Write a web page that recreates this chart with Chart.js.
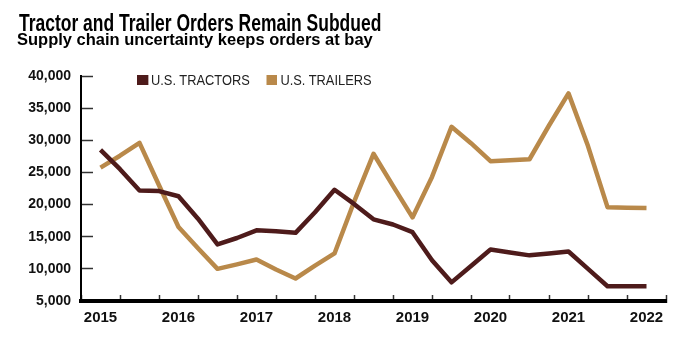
<!DOCTYPE html>
<html>
<head>
<meta charset="utf-8">
<script src="https://cdn.jsdelivr.net/npm/chart.js@4"></script>
<style>
  body { margin: 0; background: #fff; }
  #wrap { position: relative; width: 684px; height: 342px; overflow: hidden; }
  #title {
    position: absolute; left: 19px; top: 12px; margin: 0;
    font: bold 23px "Liberation Sans", Arial, sans-serif; line-height: 1;
    transform: scaleX(0.76); transform-origin: left top; white-space: nowrap; color: #000;
  }
  #subtitle {
    position: absolute; left: 17px; top: 31px; margin: 0;
    font: bold 16.5px "Liberation Sans", Arial, sans-serif; line-height: 1;
    white-space: nowrap; color: #000;
  }
  #legend {
    position: absolute; left: 137px; top: 73px; display: flex;
    font: 14.7px "Liberation Sans", sans-serif; line-height: 1;
    color: #222; white-space: nowrap;
    transform: scaleX(0.875); transform-origin: left top;
  }
  .item { display: flex; align-items: center; margin-right: 19px; }
  .box { width: 12.6px; height: 10px; margin-right: 3.4px; }
</style>
</head>
<body>
<div id="wrap">
  <div id="title">Tractor and Trailer Orders Remain Subdued</div>
  <div id="subtitle">Supply chain uncertainty keeps orders at bay</div>
  <div id="legend"></div>
  <canvas id="ordersChart" width="684" height="342"></canvas>
</div>
<script>
// quarterly order levels, 2015 Q1 through 2022 Q1
const years = ['2015', '2016', '2017', '2018', '2019', '2020', '2021', '2022'];
const tractors = [28500, 25500, 22200, 22100, 21300, 17800, 13800, 14800, 16000, 15850,
  15600, 18800, 22300, 20100, 17700, 16900, 15700, 11350, 7900, 10450,
  13000, 12550, 12100, 12400, 12700, 10000, 7300, 7300, 7300];
const trailers = [25750, 27600, 29600, 23000, 16500, 13200, 10000, 10700, 11450, 9900,
  8500, 10500, 12400, 20400, 27900, 22900, 18000, 24300, 32100, 29550,
  26750, 26900, 27050, 32300, 37300, 29100, 19600, 19500, 19450];
const seriesNames = ['U.S. TRACTORS', 'U.S. TRAILERS'];
const seriesColors = ['#4e1b1b', '#b9894a'];

// one blank slot at each end so the lines sit inside the axis
const labels = [''];
years.forEach((y, i) => {
  labels.push(y);
  if (i < years.length - 1) labels.push('', '', '');
});
labels.push('');

function pad(values) {
  return [null].concat(values, [null]);
}

// html legend drawn over the plot
const legend = document.getElementById('legend');
seriesNames.forEach((name, i) => {
  const item = document.createElement('span');
  item.className = 'item';
  item.innerHTML = '<span class="box" style="background:' + seriesColors[i] + '"></span>' + name;
  legend.appendChild(item);
});

const ctx = document.getElementById('ordersChart').getContext('2d');
new Chart(ctx, {
  type: 'line',
  data: {
    labels: labels,
    datasets: [tractors, trailers].map((values, i) => ({
      label: seriesNames[i],
      data: pad(values),
      borderColor: seriesColors[i],
      backgroundColor: seriesColors[i],
      borderWidth: 4.5,
      borderJoinStyle: 'round',
      borderCapStyle: 'butt',
      pointRadius: 0,
      tension: 0
    }))
  },
  options: {
    responsive: false,
    animation: false,
    layout: { padding: { top: 76, right: 18, bottom: 10, left: 0 } },
    plugins: {
      legend: { display: false },
      title: { display: false },
      tooltip: { enabled: false }
    },
    scales: {
      x: {
        offset: false,
        afterFit: (scale) => { scale.height = 31; },
        border: { display: true, color: '#000', width: 4 },
        grid: {
          drawOnChartArea: false,
          tickLength: -6,
          tickWidth: 1.5,
          tickColor: (c) => (c.index % 2 === 0 ? '#333' : 'rgba(0,0,0,0)'),
          offset: false
        },
        ticks: {
          autoSkip: false,
          maxRotation: 0,
          padding: 14,
          color: '#111',
          font: { family: 'Liberation Sans', size: 15, weight: 'bold' }
        }
      },
      y: {
        min: 5000,
        max: 40000,
        afterFit: (scale) => { scale.width = 81; },
        border: { display: true, color: '#000', width: 2 },
        grid: {
          drawOnChartArea: false,
          tickLength: -12,
          tickWidth: 1.5,
          tickColor: '#333'
        },
        ticks: {
          stepSize: 5000,
          padding: 22,
          color: '#111',
          font: { family: 'Liberation Sans', size: 14, weight: 'bold' }
        }
      }
    }
  }
});
</script>
</body>
</html>
